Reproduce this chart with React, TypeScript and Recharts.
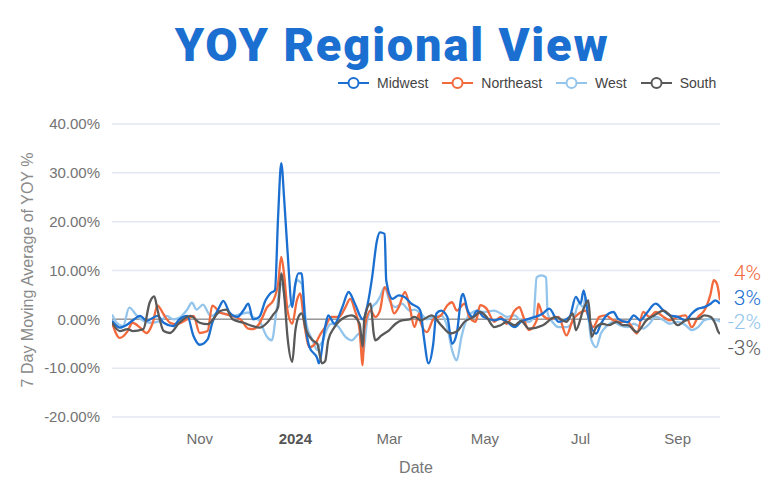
import React from "react";
import { LineChart, Line, XAxis, YAxis, CartesianGrid, ReferenceLine } from "recharts";

type Pt = [string, number];

const startDate = "2023-09-06";
const endDate = "2024-09-28";
const xTickDates = ["2023-11-01", "2024-01-01", "2024-03-01", "2024-05-01", "2024-07-01", "2024-09-01"];
const xTickLabels = ["Nov", "2024", "Mar", "May", "Jul", "Sep"];
const yTicks = [-20, -10, 0, 10, 20, 30, 40];

const midwest: Pt[] = [
  ["2023-09-06", -0.3], ["2023-09-11", -1.7], ["2023-09-16", -1.0], ["2023-09-19", -0.3], ["2023-09-24", 0.7], ["2023-09-28", -0.3],
  ["2023-10-05", 0.7], ["2023-10-09", -0.7], ["2023-10-15", -1.4], ["2023-10-19", 0], ["2023-10-24", 0.7], ["2023-10-28", -3.4],
  ["2023-11-01", -5.2], ["2023-11-06", -4.1], ["2023-11-09", -0.7], ["2023-11-14", 2.8], ["2023-11-16", 3.8], ["2023-11-20", 1.4],
  ["2023-11-25", 0.5], ["2023-11-29", 1.9], ["2023-12-02", 3.2], ["2023-12-05", 0], ["2023-12-09", 0.5], ["2023-12-13", 3.9],
  ["2023-12-16", 5.3], ["2023-12-19", 6], ["2023-12-21", 21], ["2023-12-23", 32], ["2023-12-25", 24], ["2023-12-27", 14],
  ["2023-12-30", 2.5], ["2024-01-01", 7.3], ["2024-01-03", 9.4], ["2024-01-05", 9.4], ["2024-01-07", 0.5], ["2024-01-10", -5.7],
  ["2024-01-15", -8], ["2024-01-16", -9], ["2024-01-20", -1.6], ["2024-01-22", 0.8], ["2024-01-26", -0.9], ["2024-01-31", 2.5],
  ["2024-02-04", 5.6], ["2024-02-08", 3.2], ["2024-02-13", 0], ["2024-02-16", 2.9], ["2024-02-19", 8.6], ["2024-02-22", 16],
  ["2024-02-24", 17.8], ["2024-02-27", 17.5], ["2024-02-28", 8], ["2024-03-03", 4.2], ["2024-03-07", 4.9], ["2024-03-11", 4.5],
  ["2024-03-15", 3.2], ["2024-03-20", 2.2], ["2024-03-21", 1.5], ["2024-03-23", -3.6], ["2024-03-26", -9], ["2024-03-29", -5],
  ["2024-03-31", 1.2], ["2024-04-03", 1.8], ["2024-04-07", 0.5], ["2024-04-10", -5], ["2024-04-13", -2.9], ["2024-04-16", 4.6],
  ["2024-04-17", 5.2], ["2024-04-20", 1.8], ["2024-04-23", 0.5], ["2024-04-26", 1.8], ["2024-04-30", 0.5], ["2024-05-07", -0.2],
  ["2024-05-11", 0.1], ["2024-05-15", -0.5], ["2024-05-20", -1.6], ["2024-05-24", -0.5], ["2024-05-29", 0.1], ["2024-06-07", 1.2],
  ["2024-06-11", 2.2], ["2024-06-17", -0.5], ["2024-06-24", 0.5], ["2024-06-28", 4.6], ["2024-07-01", 3.2], ["2024-07-03", 5.9],
  ["2024-07-06", 0.5], ["2024-07-11", -2.9], ["2024-07-14", -0.9], ["2024-07-19", 1.2], ["2024-07-22", 1.5], ["2024-07-25", 0.1],
  ["2024-07-31", -0.6], ["2024-08-04", 0.8], ["2024-08-08", -0.2], ["2024-08-12", 1.2], ["2024-08-18", 3.2], ["2024-08-23", 1.8],
  ["2024-08-27", 0.8], ["2024-09-01", 0.5], ["2024-09-06", -0.2], ["2024-09-10", 1.2], ["2024-09-14", 2.2], ["2024-09-18", 2.5],
  ["2024-09-22", 3.2], ["2024-09-25", 3.9], ["2024-09-28", 3.2],
];

const northeast: Pt[] = [
  ["2023-09-06", -0.7], ["2023-09-11", -3.8], ["2023-09-16", -2.4], ["2023-09-19", -0.7], ["2023-09-24", -1.7], ["2023-09-28", -2.8],
  ["2023-10-02", -0.7], ["2023-10-05", 2.8], ["2023-10-09", 1.0], ["2023-10-13", -0.7], ["2023-10-17", -1.0], ["2023-10-24", 0],
  ["2023-10-28", 0.7], ["2023-11-01", -2.8], ["2023-11-06", -2.4], ["2023-11-09", 2.8], ["2023-11-14", 1.4], ["2023-11-18", 1.0],
  ["2023-11-27", 0], ["2023-12-02", -1.9], ["2023-12-05", -2.0], ["2023-12-09", -0.9], ["2023-12-14", 2.5], ["2023-12-18", 3.9],
  ["2023-12-21", 7.3], ["2023-12-23", 12.8], ["2023-12-25", 8.7], ["2023-12-27", 1.8], ["2023-12-30", -0.9], ["2024-01-02", 3.9],
  ["2024-01-04", 5.3], ["2024-01-07", -1.6], ["2024-01-10", -5.7], ["2024-01-15", -4.3], ["2024-01-16", -3.6], ["2024-01-20", -1.6],
  ["2024-01-24", 0.5], ["2024-01-29", 0.5], ["2024-02-02", 2.5], ["2024-02-05", 4.2], ["2024-02-08", 1.8], ["2024-02-11", -2.2],
  ["2024-02-13", -9.4], ["2024-02-14", -2.2], ["2024-02-18", 1.8], ["2024-02-21", 0.5], ["2024-02-24", 1.8], ["2024-02-27", 6.6],
  ["2024-03-01", 4.6], ["2024-03-04", 1.2], ["2024-03-07", 2.5], ["2024-03-11", 5.6], ["2024-03-14", 2.5], ["2024-03-17", -1.6],
  ["2024-03-20", 1.2], ["2024-03-21", -0.7], ["2024-03-25", -2.6], ["2024-03-29", 0], ["2024-04-03", 0.8], ["2024-04-07", 2.9],
  ["2024-04-10", 3.5], ["2024-04-13", 1.8], ["2024-04-18", 3.2], ["2024-04-21", 0.5], ["2024-04-25", -0.5], ["2024-04-28", 2.9],
  ["2024-05-02", 2.2], ["2024-05-07", -0.5], ["2024-05-11", 0.5], ["2024-05-15", -0.9], ["2024-05-20", 1.8], ["2024-05-23", 2.5],
  ["2024-05-25", 1.0], ["2024-05-29", -2.2], ["2024-06-03", -0.2], ["2024-06-04", 3.2], ["2024-06-07", 0.8], ["2024-06-11", 0.1],
  ["2024-06-17", 0.5], ["2024-06-22", -3.3], ["2024-06-26", -0.2], ["2024-06-30", 1.2], ["2024-07-04", 1.8], ["2024-07-09", -1.6],
  ["2024-07-13", 0.5], ["2024-07-17", 0.8], ["2024-07-22", -0.2], ["2024-07-26", -0.5], ["2024-07-31", -0.5], ["2024-08-06", -2.9],
  ["2024-08-10", 1.5], ["2024-08-14", 0.5], ["2024-08-18", 1.5], ["2024-08-23", 0.5], ["2024-08-27", -0.2], ["2024-09-01", 0.5],
  ["2024-09-06", 0.8], ["2024-09-10", -1.6], ["2024-09-14", 0.5], ["2024-09-18", 1.8], ["2024-09-22", 5.2], ["2024-09-24", 8],
  ["2024-09-26", 7.3], ["2024-09-28", 3.9],
];

const west: Pt[] = [
  ["2023-09-06", 1.0], ["2023-09-09", -0.7], ["2023-09-13", -1.4], ["2023-09-17", 2.4], ["2023-09-22", 0.7], ["2023-09-26", -0.3],
  ["2023-09-30", -0.7], ["2023-10-07", -0.3], ["2023-10-11", 0.7], ["2023-10-15", 0], ["2023-10-19", 0.3], ["2023-10-24", 2.0],
  ["2023-10-27", 3.4], ["2023-10-30", 2.0], ["2023-11-03", 3.0], ["2023-11-08", 0.7], ["2023-11-14", 1.4], ["2023-11-22", 0.7],
  ["2023-12-02", 1.4], ["2023-12-05", 0.5], ["2023-12-09", -0.3], ["2023-12-14", -3.6], ["2023-12-17", -4.3], ["2023-12-20", 1.8],
  ["2023-12-23", 7.3], ["2023-12-27", 2.5], ["2023-12-30", 3.9], ["2024-01-02", 8.0], ["2024-01-05", 7.3], ["2024-01-08", -0.9],
  ["2024-01-12", -4.3], ["2024-01-15", -6.3], ["2024-01-16", -5.6], ["2024-01-19", -4.1], ["2024-01-20", -3.0], ["2024-01-24", -0.9],
  ["2024-01-28", -1.4], ["2024-02-02", -3.6], ["2024-02-06", -4.3], ["2024-02-11", -2.9], ["2024-02-13", -7.0], ["2024-02-16", 0],
  ["2024-02-19", 2.5], ["2024-02-22", 3.5], ["2024-02-24", 4.6], ["2024-02-27", 6.6], ["2024-03-01", 3.9], ["2024-03-05", 2.5],
  ["2024-03-09", 3.2], ["2024-03-14", 1.8], ["2024-03-17", 2.0], ["2024-03-21", 1.2], ["2024-03-25", 0], ["2024-03-29", 0.5],
  ["2024-04-03", 0.8], ["2024-04-07", -1.6], ["2024-04-10", -6.3], ["2024-04-13", -8.4], ["2024-04-16", -3.6], ["2024-04-20", 0.5],
  ["2024-04-22", 1.2], ["2024-04-26", 1.8], ["2024-04-30", 1.5], ["2024-05-07", 1.8], ["2024-05-11", 1.2], ["2024-05-15", 0.5],
  ["2024-05-20", 0.8], ["2024-05-24", -0.3], ["2024-05-29", -0.5], ["2024-06-01", 0.5], ["2024-06-03", 8.6], ["2024-06-06", 9.0],
  ["2024-06-09", 8.6], ["2024-06-10", 1.2], ["2024-06-13", -0.5], ["2024-06-17", -1.6], ["2024-06-22", -1.6], ["2024-06-26", -0.5],
  ["2024-06-30", 3.2], ["2024-07-03", 2.5], ["2024-07-04", 4.6], ["2024-07-08", -4.3], ["2024-07-11", -5.7], ["2024-07-14", -2.9],
  ["2024-07-17", -1.6], ["2024-07-22", -0.5], ["2024-07-26", -1.2], ["2024-07-31", -1.6], ["2024-08-04", -0.9], ["2024-08-10", -1.9],
  ["2024-08-14", -0.9], ["2024-08-18", 0.5], ["2024-08-23", -0.2], ["2024-08-27", -0.9], ["2024-09-01", -0.5], ["2024-09-06", -1.2],
  ["2024-09-10", -2.2], ["2024-09-14", -1.6], ["2024-09-18", -0.2], ["2024-09-22", 0.1], ["2024-09-27", -0.3], ["2024-09-28", -0.5],
];

const south: Pt[] = [
  ["2023-09-06", -0.7], ["2023-09-11", -2.4], ["2023-09-16", -2.0], ["2023-09-19", -2.4], ["2023-09-26", -2.0], ["2023-09-30", 3.4],
  ["2023-10-03", 4.7], ["2023-10-05", 2.0], ["2023-10-09", -2.4], ["2023-10-13", -2.8], ["2023-10-19", -0.7], ["2023-10-26", 0.7],
  ["2023-11-01", -0.7], ["2023-11-06", -1.0], ["2023-11-14", 1.7], ["2023-11-18", 2.0], ["2023-11-22", 0], ["2023-11-29", -0.7],
  ["2023-12-05", -1.4], ["2023-12-09", -1.7], ["2023-12-14", -0.7], ["2023-12-18", 1.0], ["2023-12-21", 2.5], ["2023-12-23", 9.4],
  ["2023-12-25", 4.6], ["2023-12-27", -3.6], ["2023-12-30", -8.7], ["2024-01-01", -2.3], ["2024-01-03", 0.5], ["2024-01-05", 1.2],
  ["2024-01-08", -2.3], ["2024-01-12", -4.3], ["2024-01-15", -5.0], ["2024-01-18", -9.0], ["2024-01-20", -8.6], ["2024-01-22", -4.3],
  ["2024-01-26", -1.6], ["2024-02-02", 0.5], ["2024-02-06", 0.8], ["2024-02-11", -0.9], ["2024-02-13", -5.6], ["2024-02-14", 0],
  ["2024-02-18", 3.2], ["2024-02-20", -2.9], ["2024-02-21", -4.3], ["2024-02-25", -3.3], ["2024-03-01", -2.2], ["2024-03-05", -0.9],
  ["2024-03-09", -0.2], ["2024-03-14", 0], ["2024-03-17", 0.5], ["2024-03-21", -0.2], ["2024-03-28", 0.8], ["2024-04-03", -1.2],
  ["2024-04-09", -2.9], ["2024-04-13", -2.5], ["2024-04-18", -0.5], ["2024-04-24", 0.5], ["2024-04-28", 1.5], ["2024-05-02", 0.5],
  ["2024-05-07", -1.6], ["2024-05-11", -1.2], ["2024-05-15", -0.5], ["2024-05-20", -1.2], ["2024-05-24", -0.3], ["2024-05-29", -1.9],
  ["2024-06-07", -1.2], ["2024-06-15", 0.5], ["2024-06-22", -0.5], ["2024-06-26", 1.2], ["2024-06-28", -2.2], ["2024-07-03", 2.2],
  ["2024-07-06", 3.9], ["2024-07-08", -3.6], ["2024-07-11", -1.6], ["2024-07-15", -0.9], ["2024-07-19", -1.2], ["2024-07-24", -0.5],
  ["2024-07-28", -1.2], ["2024-07-31", -1.2], ["2024-08-06", -2.6], ["2024-08-12", -0.2], ["2024-08-17", 0.8], ["2024-08-23", 1.8],
  ["2024-08-27", 0.8], ["2024-09-01", -1.2], ["2024-09-06", -0.2], ["2024-09-10", 0.1], ["2024-09-14", 0.1], ["2024-09-18", 0.8],
  ["2024-09-22", 0.5], ["2024-09-25", -0.9], ["2024-09-27", -2.6], ["2024-09-28", -3.0],
];

const seriesNames = ["Midwest", "Northeast", "West", "South"];
const seriesColors = ["#1a6fd0", "#f2693c", "#93c5ec", "#595959"];
const seriesData = [midwest, northeast, west, south];
const drawOrder = [2, 1, 0, 3];

const endLabels = ["4%", "3%", "-2%", "-3%"];
const endLabelColors = ["#f2693c", "#1a6fd0", "#93c5ec", "#595959"];

const titleText = "YOY Regional View";
const yAxisTitle = "7 Day Moving Average of YOY %";
const xAxisTitle = "Date";

const ts = (s: string) => Date.parse(s + "T00:00:00Z");
const xTickTs = xTickDates.map(ts);

const XTick = (props: any) => {
  const { x, y, payload } = props;
  const i = xTickTs.indexOf(payload.value);
  const label = i >= 0 ? xTickLabels[i] : "";
  const bold = label === "2024";
  return (
    <text x={x} y={y} dy={25} textAnchor="middle" fontFamily="'Liberation Sans', Arial, sans-serif" fontSize={15}
      fontWeight={bold ? 700 : 400} fill={bold ? "#555" : "#6e6e6e"}>
      {label}
    </text>
  );
};

const LegendBox = () => (
  <div style={{ position: "absolute", left: 338, top: 76, display: "flex", alignItems: "center",
    fontFamily: "'Liberation Sans', Arial, sans-serif", fontSize: 14, color: "#444", lineHeight: "14px" }}>
    {seriesNames.map((n, i) => (
      <div key={n} style={{ display: "flex", alignItems: "center", marginRight: 14 }}>
        <svg width={31} height={14} style={{ display: "block" }}>
          <line x1={0} y1={7} x2={31} y2={7} stroke={seriesColors[i]} strokeWidth={2} />
          <circle cx={15.5} cy={7} r={5} fill="#fff" stroke={seriesColors[i]} strokeWidth={2} />
        </svg>
        <span style={{ marginLeft: 8, whiteSpace: "nowrap" }}>{n}</span>
      </div>
    ))}
  </div>
);

export default function App() {
  return (
    <div style={{ position: "absolute", left: 0, top: 0, width: 765, height: 491, background: "#fff", overflow: "hidden" }}>
      <LineChart width={765} height={491} margin={{ top: 124, right: 45, bottom: 44, left: 0 }}>
        <CartesianGrid horizontal vertical={false} stroke="#e3e8f1" strokeWidth={1.5} />
        <XAxis
          dataKey="t"
          type="number"
          scale="time"
          domain={[ts(startDate), ts(endDate)]}
          ticks={xTickTs}
          interval={0}
          tick={<XTick />}
          tickLine={false}
          axisLine={false}
          tickSize={0}
          height={30}
          allowDataOverflow
        />
        <YAxis
          type="number"
          domain={[-20, 40]}
          ticks={yTicks}
          interval={0}
          tickFormatter={(v: number) => v.toFixed(2) + "%"}
          tick={{ fontSize: 15, fill: "#737373", fontFamily: "'Liberation Sans', Arial, sans-serif" }}
          tickLine={false}
          axisLine={false}
          tickSize={0}
          tickMargin={12}
          width={112}
        />
        <ReferenceLine y={0} stroke="#9a9a9a" strokeWidth={1.5} />
        {drawOrder.map((i) => (
          <Line
            key={seriesNames[i]}
            name={seriesNames[i]}
            data={seriesData[i].map(([d, v]) => ({ t: ts(d), v }))}
            dataKey="v"
            type="monotone"
            stroke={seriesColors[i]}
            strokeWidth={2.3}
            dot={false}
            activeDot={false}
            isAnimationActive={false}
          />
        ))}
      </LineChart>
      <LegendBox />
      <svg width={765} height={491} style={{ position: "absolute", left: 0, top: 0, pointerEvents: "none" }}>
        <text x={392} y={61} textAnchor="middle" fontFamily="Roboto, 'Liberation Sans', sans-serif" fontWeight={900}
          fontSize={47} letterSpacing={1.8} fill="#1b6fd0">
          {titleText}
        </text>
        <text x={27} y={270} transform="rotate(-90 27 270)" textAnchor="middle" dominantBaseline="central"
          fontFamily="'Liberation Sans', Arial, sans-serif" fontSize={16} fill="#8a8a8a">
          {yAxisTitle}
        </text>
        <text x={416} y={473} textAnchor="middle" fontFamily="'Liberation Sans', Arial, sans-serif" fontSize={16} fill="#777">
          {xAxisTitle}
        </text>
        {endLabels.map((l, i) => (
          <text key={l} x={761} y={280 + [0, 25, 49, 75][i]} textAnchor="end" fontFamily="Roboto, 'Liberation Sans', sans-serif"
            fontWeight={300} fontSize={21} fill={endLabelColors[i]}>
            {l}
          </text>
        ))}
      </svg>
    </div>
  );
}
